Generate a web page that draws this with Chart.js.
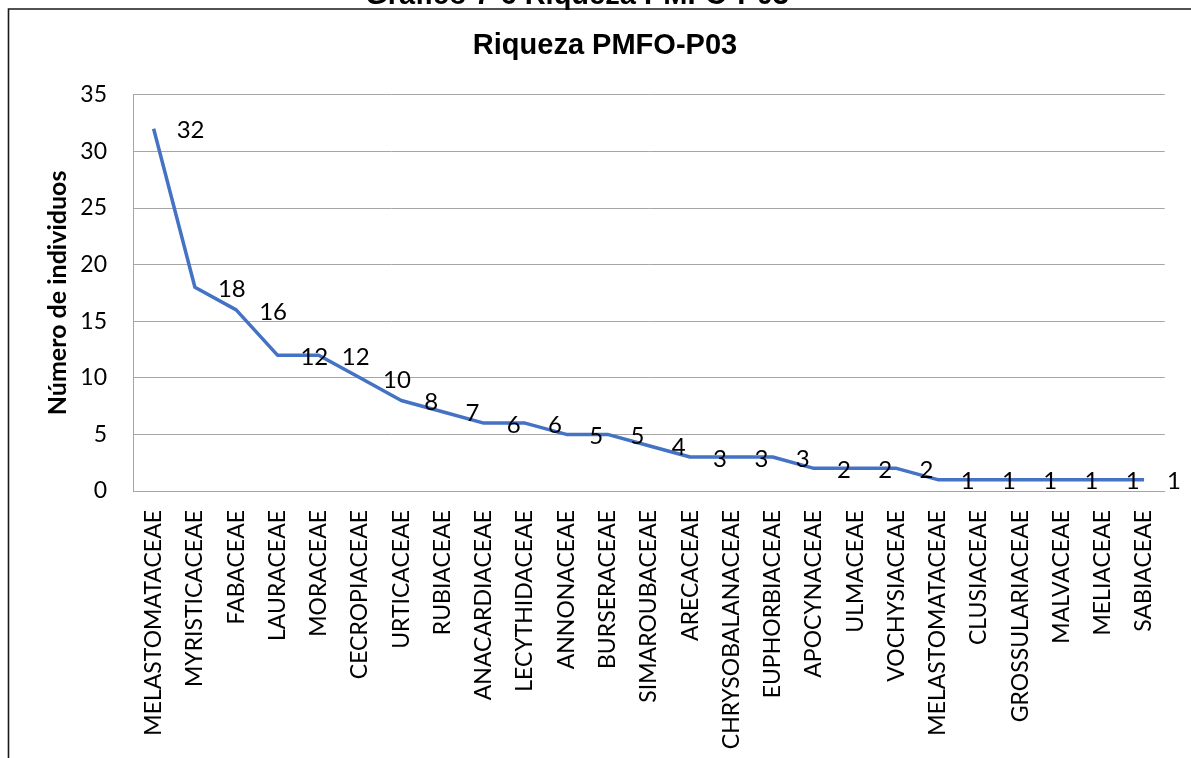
<!DOCTYPE html>
<html>
<head>
<meta charset="utf-8">
<script src="https://cdn.jsdelivr.net/npm/chart.js@4.4.1/dist/chart.umd.min.js"></script>
<style>
  html, body { margin: 0; padding: 0; background: #fff; }
  #wrap { position: relative; width: 1191px; height: 758px; }
</style>
</head>
<body>
<div id="wrap"><canvas id="chart"></canvas></div>
<script>
// families, ordered by number of individuals
const families = [
    'MELASTOMATACEAE', 'MYRISTICACEAE', 'FABACEAE', 'LAURACEAE', 'MORACEAE',
    'CECROPIACEAE', 'URTICACEAE', 'RUBIACEAE', 'ANACARDIACEAE', 'LECYTHIDACEAE',
    'ANNONACEAE', 'BURSERACEAE', 'SIMAROUBACEAE', 'ARECACEAE', 'CHRYSOBALANACEAE',
    'EUPHORBIACEAE', 'APOCYNACEAE', 'ULMACEAE', 'VOCHYSIACEAE', 'MELASTOMATACEAE',
    'CLUSIACEAE', 'GROSSULARIACEAE', 'MALVACEAE', 'MELIACEAE', 'SABIACEAE'
];
const individuals = [32, 18, 16, 12, 12, 10, 8, 7, 6, 6, 5, 5, 4, 3, 3, 3, 2, 2, 2, 1, 1, 1, 1, 1, 1];
const yTicks = [0, 5, 10, 15, 20, 25, 30, 35];

const caption = 'Gráfico 7-6 Riqueza PMFO-P03';
const chartTitle = 'Riqueza PMFO-P03';
const yTitle = 'Número de individuos';

const FONT = 'Lato, "Open Sans", sans-serif';
const ARIAL = '"Liberation Sans", Arial, sans-serif';

// page frame + cut caption above it
const framePlugin = {
    id: 'frame',
    beforeDraw (chart) {
        const ctx = chart.ctx;
        ctx.save();
        ctx.strokeStyle = '#1a1a1a';
        ctx.lineWidth = 1.6;
        ctx.beginPath();
        ctx.moveTo(8.5, chart.height);
        ctx.lineTo(8.5, 9);
        ctx.lineTo(chart.width, 9);
        ctx.stroke();
        ctx.fillStyle = '#000';
        ctx.font = 'bold 29px ' + ARIAL;
        ctx.textAlign = 'center';
        ctx.textBaseline = 'alphabetic';
        ctx.fillText(caption, 577, 4);
        ctx.restore();
    }
};

// value labels to the right of each point
const valueLabels = {
    id: 'valueLabels',
    afterDatasetsDraw (chart) {
        const ctx = chart.ctx;
        const meta = chart.getDatasetMeta(0);
        ctx.save();
        ctx.fillStyle = '#000';
        ctx.font = '24px ' + FONT;
        ctx.textAlign = 'left';
        ctx.textBaseline = 'middle';
        meta.data.forEach((pt, i) => {
            ctx.fillText(String(individuals[i]), pt.x + 23, pt.y + 2);
        });
        ctx.restore();
    }
};

new Chart(document.getElementById('chart'), {
    type: 'line',
    data: {
        labels: families,
        datasets: [{
            data: individuals,
            borderColor: '#4472C4',
            borderWidth: 3.5,
            borderJoinStyle: 'round',
            pointRadius: 0,
            tension: 0
        }]
    },
    options: {
        responsive: true,
        maintainAspectRatio: false,
        animation: false,
        layout: { padding: { left: 36, right: 17, top: 0, bottom: 0 } },
        plugins: {
            legend: { display: false },
            tooltip: { enabled: false },
            title: {
                display: true,
                text: chartTitle,
                color: '#000',
                font: { family: ARIAL, size: 29, weight: 'bold', lineHeight: 1.2 },
                padding: { top: 29, bottom: 31 }
            }
        },
        scales: {
            x: {
                offset: true,
                grid: { display: false, drawTicks: false },
                border: { display: true, color: '#a6a6a6', width: 1 },
                ticks: {
                    autoSkip: false,
                    minRotation: 90,
                    maxRotation: 90,
                    padding: 19,
                    color: '#000',
                    font: { family: FONT, size: 23 }
                },
                afterFit (scale) { scale.height = 267; }
            },
            y: {
                min: yTicks[0],
                max: yTicks[yTicks.length - 1],
                afterBuildTicks (scale) { scale.ticks = yTicks.map(v => ({ value: v })); },
                grid: { color: '#a6a6a6', lineWidth: 1, drawTicks: false },
                border: { display: true, color: '#a6a6a6', width: 1 },
                ticks: {
                    padding: 26,
                    color: '#000',
                    font: { family: FONT, size: 23 }
                },
                title: {
                    display: true,
                    text: yTitle,
                    color: '#000',
                    font: { family: FONT, size: 25, weight: 'bold', lineHeight: 1.2 },
                    padding: { top: 7, bottom: 0 }
                },
                afterFit (scale) { scale.width = 97; }
            }
        }
    },
    plugins: [framePlugin, valueLabels]
});
</script>
</body>
</html>
